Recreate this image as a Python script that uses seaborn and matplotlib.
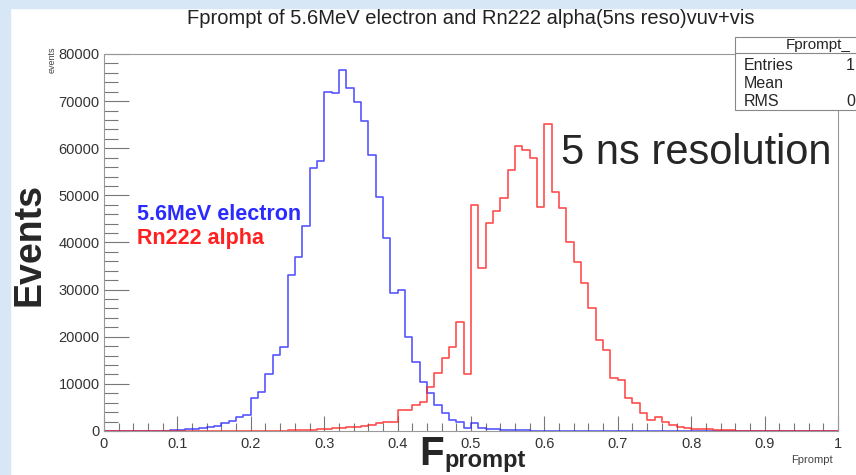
import numpy as np, pandas as pd
import matplotlib as mpl, matplotlib.pyplot as plt
import seaborn as sns
from matplotlib.patches import Rectangle
from matplotlib.lines import Line2D
from matplotlib.ticker import MultipleLocator, FuncFormatter

#%% histogram contents (100 bins of 0.01 in Fprompt)
edges = np.linspace(0, 1, 101)

electron = [0, 0, 0, 0, 0, 30, 50, 60, 80, 120,
            300, 350, 450, 600, 800, 1100, 1600, 2200, 3000, 3400,
            6900, 8300, 12200, 16100, 17900, 33100, 37000, 43400, 55800, 57200,
            72000, 71700, 76600, 72800, 69900, 65700, 58600, 49700, 40900, 29200,
            29900, 20000, 14700, 10500, 8000, 5600, 3800, 2300, 2000, 600,
            1600, 600, 500, 400, 300, 200, 150, 120, 100, 90,
            80, 70, 60, 50, 40, 30, 0, 0, 0, 0,
            0, 0, 0, 0, 0, 0, 0, 0, 0, 0,
            0, 0, 0, 0, 0, 0, 0, 0, 0, 0,
            0, 0, 0, 0, 0, 0, 0, 0, 0, 0]

alpha = [0, 0, 0, 0, 0, 0, 0, 0, 0, 0,
         0, 0, 0, 0, 0, 0, 0, 0, 0, 0,
         30, 40, 60, 80, 100, 150, 200, 250, 300, 400,
         450, 600, 700, 800, 900, 1100, 1300, 1600, 2000, 2000,
         4500, 4500, 5500, 6200, 9300, 12400, 15400, 17900, 23200, 12200,
         48000, 34600, 44100, 46600, 49400, 55400, 60400, 59700, 57900, 47600,
         65200, 50800, 47300, 40200, 35900, 31400, 26200, 19300, 17200, 11300,
         10800, 7100, 5900, 3800, 2300, 3000, 2000, 1300, 900, 600,
         500, 400, 350, 300, 200, 150, 100, 80, 60, 40,
         20, 15, 10, 10, 5, 5, 0, 0, 0, 0]

labels = ['5.6MeV electron', 'Rn222 alpha']
colors = ['#2b2bff', '#ff2020']

#%% style
sns.set_style('ticks')
mpl.rcParams['font.family'] = ['Liberation Sans', 'DejaVu Sans']

centers = edges[:-1] + 0.005
df = pd.concat([pd.DataFrame({'Fprompt': centers, 'events': electron, 'particle': labels[0]}),
                pd.DataFrame({'Fprompt': centers, 'events': alpha, 'particle': labels[1]})],
               ignore_index=True)

W, H = 856, 475
fig = plt.figure(figsize=(W/100, H/100), dpi=100)
ax = fig.add_axes([104/W, 1-431/H, 734/W, (431-54)/H])

sns.histplot(data=df, x='Fprompt', weights='events', hue='particle',
             hue_order=labels[::-1], palette=dict(zip(labels, colors)),
             bins=list(edges), element='step', fill=False, legend=False,
             linewidth=1.2, alpha=0.8, ax=ax)

ax.set_xlim(0, 1)
ax.set_ylim(0, 80000)
ax.set_xlabel('')
ax.set_ylabel('')
ax.xaxis.set_major_locator(MultipleLocator(0.1))
ax.xaxis.set_minor_locator(MultipleLocator(0.02))
ax.yaxis.set_major_locator(MultipleLocator(10000))
ax.yaxis.set_minor_locator(MultipleLocator(2000))
fmt = FuncFormatter(lambda v, p: f'{v:g}')
ax.xaxis.set_major_formatter(fmt)
ax.yaxis.set_major_formatter(fmt)
ax.tick_params(axis='both', which='both', direction='in', color='#777',
               width=0.8, labelsize=10.5, labelcolor='#333')
ax.tick_params(axis='y', which='major', length=18, pad=3)
ax.tick_params(axis='y', which='minor', length=10)
ax.tick_params(axis='x', which='major', length=11, pad=4)
ax.tick_params(axis='x', which='minor', length=6)
for s in ax.spines.values():
    s.set_color('#999')
    s.set_linewidth(0.8)

#%% background frame of the slide
blue = '#d7e7f5'
fig.patches.append(Rectangle((0, 1-8/H), 1, 8/H, transform=fig.transFigure,
                             color=blue, zorder=-1))
fig.patches.append(Rectangle((0, 0), 10/W, 1, transform=fig.transFigure,
                             color=blue, zorder=-1))

#%% texts
fig.text(471/W, 1-18/H, 'Fprompt of 5.6MeV electron and Rn222 alpha(5ns reso)vuv+vis',
         ha='center', va='center', fontsize=14.5, color='#222')
fig.text(30/W, 1-245/H, 'Events', rotation=90, ha='center', va='center',
         fontsize=27, weight='bold')
fig.text(419/W, 1-465/H, 'F', ha='left', va='baseline', fontsize=29, weight='bold')
fig.text(444/W, 1-467/H, 'prompt', ha='left', va='baseline', fontsize=17, weight='bold')
fig.text(52/W, 1-60/H, 'events', rotation=90, ha='center', va='center',
         fontsize=6.5, color='#444')
fig.text(812/W, 1-460/H, 'Fprompt', ha='center', va='center', fontsize=8, color='#444')
fig.text(561/W, 1-164/H, '5 ns resolution', ha='left', va='baseline', fontsize=30)
fig.text(137/W, 1-220/H, labels[0], ha='left', va='baseline', fontsize=15.5,
         weight='bold', color=colors[0])
fig.text(137/W, 1-244/H, labels[1], ha='left', va='baseline', fontsize=15.5,
         weight='bold', color=colors[1])

# stats box, cut by the right edge
fig.patches.append(Rectangle((735/W, 1-110/H), 130/W, 73/H, transform=fig.transFigure,
                             fc='white', ec='#888', lw=0.8, zorder=5))
fig.add_artist(Line2D([735/W, 1], [1-53/H, 1-53/H], color='#888', lw=0.8, zorder=6))
fig.text(818/W, 1-45/H, 'Fprompt_', ha='center', va='center', fontsize=11, zorder=7)
for name, val, yy in [('Entries', '1', 65), ('Mean', '', 83), ('RMS', '0', 101)]:
    fig.text(744/W, 1-yy/H, name, ha='left', va='center', fontsize=11.5, zorder=7)
    if val:
        fig.text(846/W, 1-yy/H, val, ha='left', va='center', fontsize=11.5, zorder=7)

fig.savefig('out.png', dpi=100, facecolor='white')
